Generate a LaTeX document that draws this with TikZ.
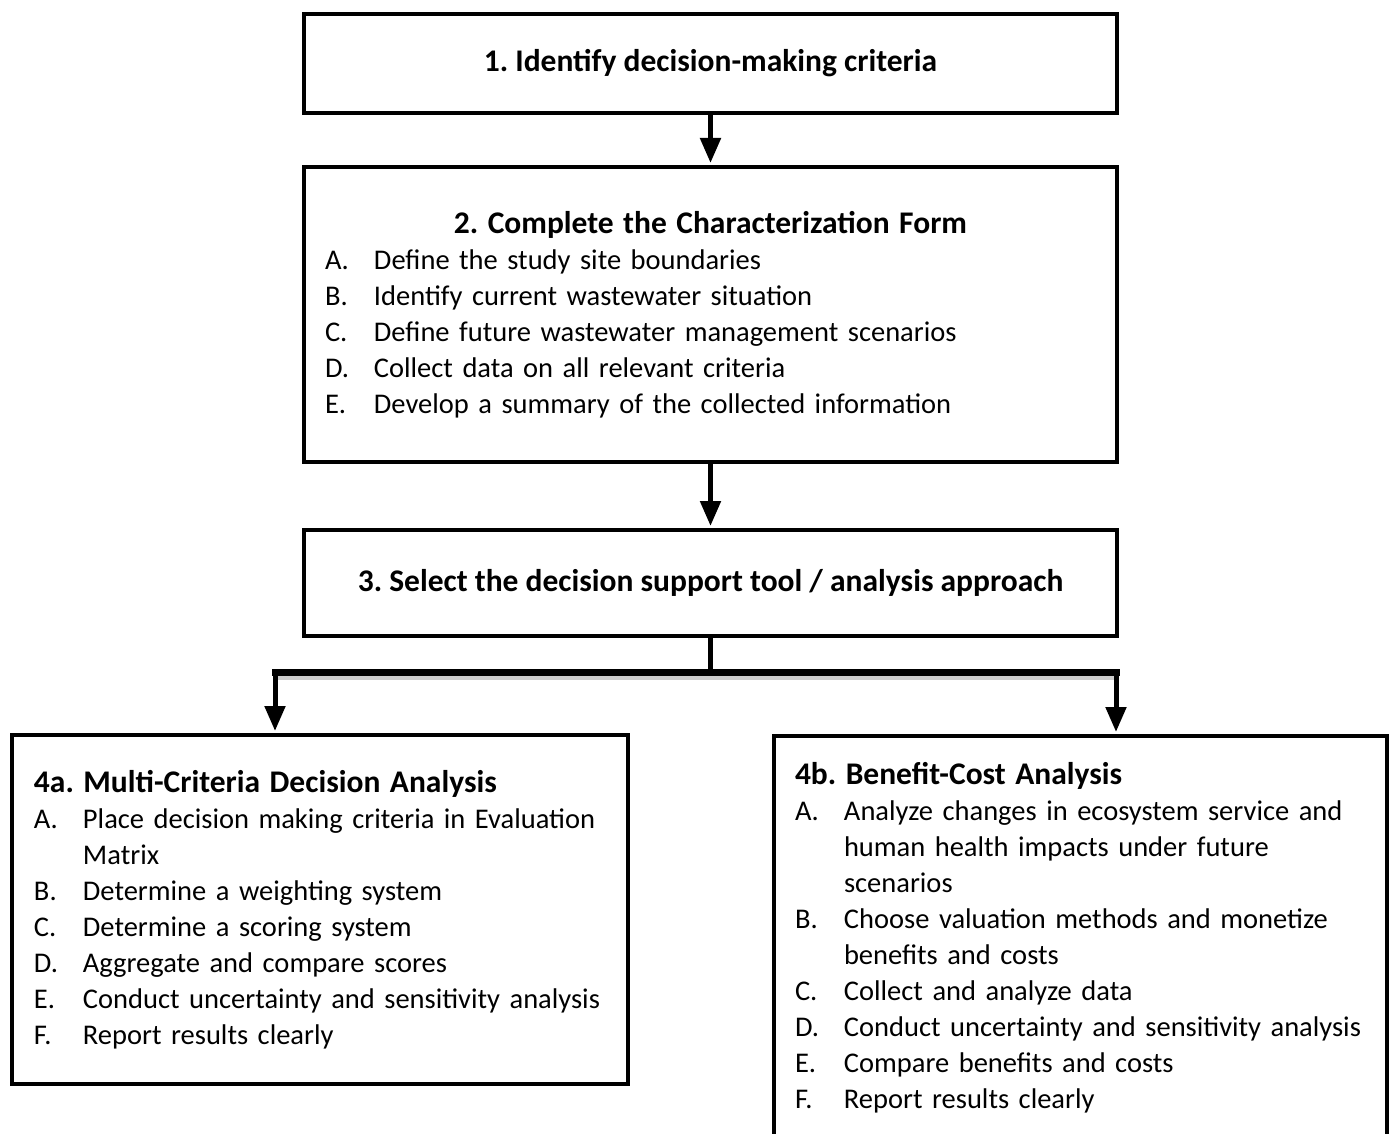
\documentclass[tikz,border=0pt]{standalone}
\usepackage{fontspec}
\setmainfont{Carlito}
\usetikzlibrary{arrows.meta}

% one lettered line of a step, wrapped lines hang under the text
\newcommand{\stepline}[2]{\par\hangindent=49pt\hangafter=1\noindent\makebox[49pt][l]{#1}#2}
\newcommand{\steptitle}[1]{{\fontsize{31.5}{36}\selectfont\bfseries #1}}

\begin{document}
\begin{tikzpicture}[x=1pt,y=-1pt,
    stepbox/.style={draw, line width=4pt, anchor=north west, inner ysep=0pt,
      font=\fontsize{28.5}{36}\selectfont\frenchspacing},
    link/.style={line width=5pt, -{Triangle[width=20pt,length=25pt]}, shorten >=2pt}]
  \useasboundingbox (0,0) rectangle (1390,1134);

  \node [stepbox, minimum width=813pt, minimum height=99pt] (box1) at (302,12)
    {\steptitle{1. Identify decision-making criteria}};

  \node [stepbox, minimum width=813pt, minimum height=295pt, inner xsep=21pt, text width=771pt] (box2) at (302,165)
    {{\centering\steptitle{2. Complete the Characterization Form}\par}\raggedright
     \stepline{A.}{Define the study site boundaries}
     \stepline{B.}{Identify current wastewater situation}
     \stepline{C.}{Define future wastewater management scenarios}
     \stepline{D.}{Collect data on all relevant criteria}
     \stepline{E.}{Develop a summary of the collected information}};

  \node [stepbox, minimum width=813pt, minimum height=106pt] (box3) at (302,528)
    {\steptitle{3. Select the decision support tool / analysis approach}};

  \node [stepbox, minimum width=616pt, minimum height=349pt, inner xsep=22pt, text width=572pt] (box4a) at (10,733)
    {\raggedright\steptitle{4a. Multi-Criteria Decision Analysis}
     \stepline{A.}{Place decision making criteria in Evaluation\newline Matrix}
     \stepline{B.}{Determine a weighting system}
     \stepline{C.}{Determine a scoring system}
     \stepline{D.}{Aggregate and compare scores}
     \stepline{E.}{Conduct uncertainty and sensitivity analysis}
     \stepline{F.}{Report results clearly}};

  \node [stepbox, minimum width=613pt, minimum height=404pt, inner xsep=21pt, text width=571pt] (box4b) at (772,734)
    {\raggedright\steptitle{4b. Benefit-Cost Analysis}
     \stepline{A.}{Analyze changes in ecosystem service and\newline human health impacts under future\newline scenarios}
     \stepline{B.}{Choose valuation methods and monetize\newline benefits and costs}
     \stepline{C.}{Collect and analyze data}
     \stepline{D.}{Conduct uncertainty and sensitivity analysis}
     \stepline{E.}{Compare benefits and costs}
     \stepline{F.}{Report results clearly}};

  \draw [link] (box1) -- (box2);
  \draw [link] (box2) -- (box3);

  % split into the two analysis approaches
  \coordinate (fork) at (box3.south |- 0,672);
  \coordinate (forkL) at (275,672);
  \coordinate (forkR) at (1116,672);
  \draw [line width=5pt] (box3.south) -- (fork);
  \draw [black!20, line width=5pt] ([yshift=-5pt]forkL) -- ([yshift=-5pt]forkR);
  \draw [line width=7pt, line cap=rect] (forkL) -- (forkR);
  \draw [link] (forkL) -- (forkL |- box4a.north);
  \draw [link] (forkR) -- (forkR |- box4b.north);
\end{tikzpicture}
\end{document}
